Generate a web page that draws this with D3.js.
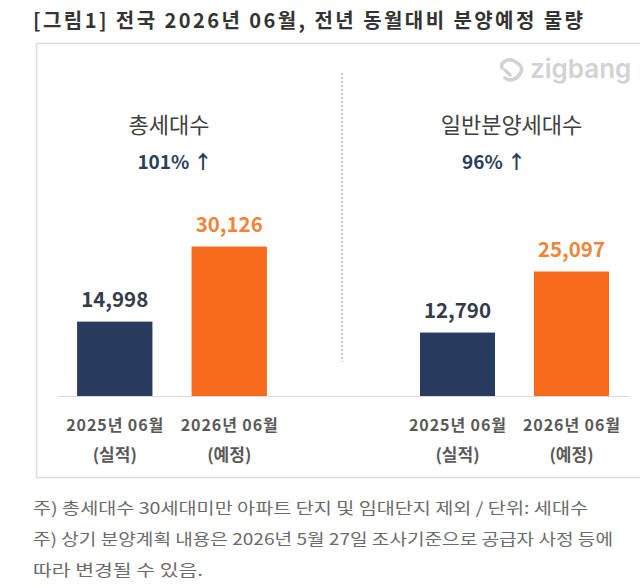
<!DOCTYPE html>
<html>
<head>
<meta charset="utf-8">
<script src="https://cdn.jsdelivr.net/npm/d3@7"></script>
<style>
  html, body { margin: 0; padding: 0; background: #fff; }
  svg { display: block; font-family: "Noto Sans CJK KR", "Noto Sans", sans-serif; }
</style>
</head>
<body>
<div id="chart"></div>
<script>
/* 전국 분양예정 물량 — 2025.06 실적 vs 2026.06 예정 */

var periods   = ['2025년 06월', '2026년 06월'];
var subLabels = ['(실적)', '(예정)'];
var totalUnits   = [14998, 30126];   /* 총세대수 */
var generalUnits = [12790, 25097];   /* 일반분양세대수 */
var panelTitles  = ['총세대수', '일반분양세대수'];
var growthLabels = ['101% ↑', '96% ↑'];
var notes = [
  '주) 총세대수 30세대미만 아파트  단지 및 임대단지 제외 / 단위: 세대수',
  '주) 상기 분양계획 내용은 2026년 5월 27일 조사기준으로 공급자 사정 등에',
  '따라 변경될 수 있음.'
];
var noteWidths = [555, 580, 170];

(function draw() {
  var W = 640, H = 588;
  var svg = d3.select('#chart').append('svg')
    .attr('width', W).attr('height', H);

  var NAVY = '#263b5e', ORANGE = '#f86b1d';
  var barColors   = [NAVY, ORANGE];
  var labelColors = ['#343c49', '#f0843a'];

  /* title */
  svg.append('text')
    .attr('x', 33).attr('y', 28)
    .attr('font-size', 20).attr('font-weight', 'bold')
    .attr('fill', '#333')
    .attr('textLength', 550).attr('lengthAdjust', 'spacing')
    .text('[그림1] 전국 2026년 06월, 전년 동월대비 분양예정 물량');

  /* panel frame */
  svg.append('rect')
    .attr('x', 36.5).attr('y', 43.5)
    .attr('width', 620).attr('height', 434)
    .attr('fill', '#fff').attr('stroke', '#dcdcdc').attr('stroke-width', 1.5);

  /* shared value scale — both charts use the same one */
  var baseY = 396;
  var y = d3.scaleLinear().domain([0, 35000]).range([baseY, baseY - 173.6]);

  var charts = [
    { data: totalUnits,   range: [57.5, 286.5], title: panelTitles[0], growth: growthLabels[0], gx: 175 },
    { data: generalUnits, range: [400.5, 628.5], title: panelTitles[1], growth: growthLabels[1], gx: 494 }
  ];

  /* baseline */
  svg.append('line')
    .attr('x1', 58).attr('x2', 630)
    .attr('y1', baseY + 0.5).attr('y2', baseY + 0.5)
    .attr('stroke', '#d9d9d9').attr('stroke-width', 1);

  /* divider */
  svg.append('line')
    .attr('x1', 342).attr('x2', 342)
    .attr('y1', 73).attr('y2', 362)
    .attr('stroke', '#a6a6a6').attr('stroke-width', 1.2)
    .attr('stroke-dasharray', '2,2');

  charts.forEach(function (c) {
    var x = d3.scaleBand().domain(periods).range(c.range)
      .paddingInner(0.342).paddingOuter(0.171);
    var g = svg.append('g');
    var cx = (c.range[0] + c.range[1]) / 2;

    g.append('text')
      .attr('x', cx - 3).attr('y', 133)
      .attr('text-anchor', 'middle')
      .attr('font-size', 22).attr('fill', '#404040')
      .text(c.title);

    g.append('text')
      .attr('x', c.gx).attr('y', 169)
      .attr('text-anchor', 'middle')
      .attr('font-size', 19).attr('font-weight', 'bold')
      .attr('fill', '#2c3d5c')
      .text(c.growth);

    g.selectAll('rect.bar').data(c.data).enter().append('rect')
      .attr('class', 'bar')
      .attr('x', function (d, i) { return x(periods[i]); })
      .attr('y', function (d) { return y(d); })
      .attr('width', x.bandwidth())
      .attr('height', function (d) { return baseY - y(d); })
      .attr('fill', function (d, i) { return barColors[i]; });

    g.selectAll('text.val').data(c.data).enter().append('text')
      .attr('class', 'val')
      .attr('x', function (d, i) { return x(periods[i]) + x.bandwidth() / 2; })
      .attr('y', function (d) { return y(d) - 15; })
      .attr('text-anchor', 'middle')
      .attr('font-size', 20.5).attr('font-weight', 'bold')
      .attr('fill', function (d, i) { return labelColors[i]; })
      .text(function (d) { return d3.format(',')(d); });

    /* category labels, two lines */
    periods.forEach(function (p, i) {
      var tx = x(p) + x.bandwidth() / 2;
      g.append('text')
        .attr('x', tx).attr('y', 431)
        .attr('text-anchor', 'middle')
        .attr('font-size', 16).attr('font-weight', 'bold')
        .attr('fill', '#595959')
        .attr('textLength', 97).attr('lengthAdjust', 'spacing')
        .text(p);
      g.append('text')
        .attr('x', tx).attr('y', 461)
        .attr('text-anchor', 'middle')
        .attr('font-size', 17).attr('font-weight', 'bold')
        .attr('fill', '#595959')
        .text(subLabels[i]);
    });
  });

  /* zigbang watermark */
  var logo = svg.append('g').attr('transform', 'translate(498,58)');
  logo.append('path')
    .attr('d', 'M4,10 C2,4 10,0 16,3 C22,6 26,10 22,16 C19,21 12,24 7,20 M7,12 L12,17')
    .attr('fill', 'none').attr('stroke', '#d2d2d2').attr('stroke-width', 3.5)
    .attr('stroke-linecap', 'round');
  logo.append('text')
    .attr('x', 32).attr('y', 20)
    .attr('font-family', 'Inter, "Noto Sans", sans-serif')
    .attr('font-size', 26).attr('font-weight', 600)
    .attr('fill', '#d2d2d2')
    .text('zigbang');

  /* notes */
  svg.selectAll('text.note').data(notes).enter().append('text')
    .attr('class', 'note')
    .attr('x', 33)
    .attr('y', function (d, i) { return 514 + i * 31; })
    .attr('font-size', 16).attr('fill', '#6b6b6b')
    .attr('textLength', function (d, i) { return noteWidths[i]; })
    .attr('lengthAdjust', 'spacingAndGlyphs')
    .text(function (d) { return d; });
}());
</script>
</body>
</html>
